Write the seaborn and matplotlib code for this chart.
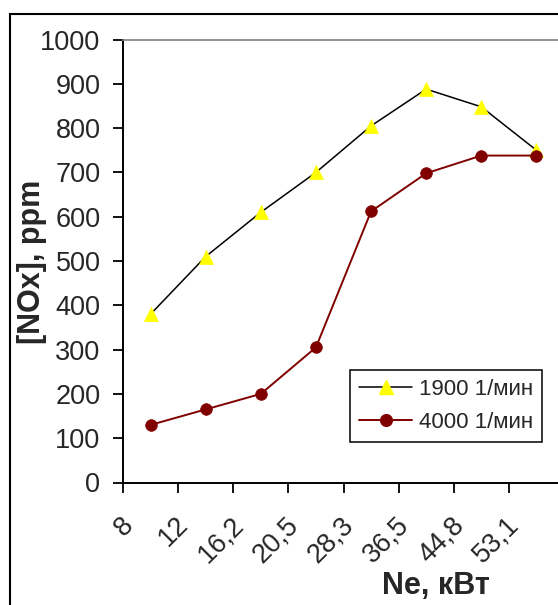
import matplotlib
matplotlib.use('Agg')
import matplotlib.pyplot as plt
import matplotlib.patches as mpatches
from matplotlib.lines import Line2D
from matplotlib.transforms import ScaledTranslation
import seaborn as sns
import pandas as pd

categories = ['8', '12', '16,2', '20,5', '28,3', '36,5', '44,8', '53,1']
nox_1900 = [380, 510, 610, 700, 805, 888, 848, 750]
nox_4000 = [130, 165, 200, 305, 612, 698, 738, 738]
series_labels = ['1900 1/мин', '4000 1/мин']
y_ticks = list(range(0, 1001, 100))
x_title = 'Ne, кВт'
y_title = '[NOx], ppm'

sns.set_style('white')
plt.rcParams['font.family'] = ['Liberation Sans', 'DejaVu Sans']

W, H = 558, 605
fig = plt.figure(figsize=(W / 100, H / 100), dpi=100)
ax = fig.add_axes([123 / W, 1 - 482.5 / H, 441 / W, 443 / H])

df1 = pd.DataFrame({'Ne': categories, 'NOx': nox_1900})
df2 = pd.DataFrame({'Ne': categories, 'NOx': nox_4000})

sns.lineplot(data=df1, x='Ne', y='NOx', ax=ax, sort=False, color='black',
             linewidth=1.1, marker='^', markersize=10,
             markerfacecolor='#FFFF00', markeredgecolor='#FFFF00',
             markeredgewidth=0.5, clip_on=False)
sns.lineplot(data=df2, x='Ne', y='NOx', ax=ax, sort=False, color='#800000',
             linewidth=1.4, marker='o', markersize=8.4,
             markerfacecolor='#800000', markeredgecolor='#800000',
             markeredgewidth=0.5, clip_on=False)

ax.set_xlim(-0.5, 7.5)
ax.set_ylim(0, 1000)
ax.set_yticks(y_ticks)
ax.set_xticks(range(len(categories)))
ax.set_xticklabels(categories)
ax.set_xticks([i - 0.5 for i in range(len(categories) + 1)], minor=True)
ax.set_xlabel('')
ax.set_ylabel('')

ax.tick_params(axis='y', which='major', left=True, length=7.2, width=1.3,
               direction='out', pad=9, labelsize=19.5, color='black')
ax.tick_params(axis='x', which='major', bottom=True, length=0, pad=27.7,
               labelsize=19.5, labelrotation=45)
ax.tick_params(axis='x', which='minor', bottom=True, length=7, width=1.3,
               direction='out', color='black')
offset = ScaledTranslation(-21 / 100, 0, fig.dpi_scale_trans)
for lab in ax.get_xticklabels():
    lab.set_ha('right')
    lab.set_va('center')
    lab.set_rotation_mode('anchor')
    lab.set_transform(lab.get_transform() + offset)

for s in ['left', 'bottom']:
    ax.spines[s].set_color('black')
    ax.spines[s].set_linewidth(1.4)
ax.spines['top'].set_color('#808080')
ax.spines['top'].set_linewidth(1.2)
ax.spines['right'].set_visible(False)
ax.grid(False)

handles = [
    Line2D([], [], color='black', lw=1.1, marker='^', ms=10,
           mfc='#FFFF00', mec='#FFFF00'),
    Line2D([], [], color='#800000', lw=1.4, marker='o', ms=8.4,
           mfc='#800000', mec='#800000'),
]
leg = ax.legend(handles, series_labels, loc='upper left',
                bbox_to_anchor=(350 / W, 1 - 370 / H),
                bbox_transform=fig.transFigure, borderaxespad=0,
                fontsize=16, handlelength=2.4, handletextpad=0.3,
                borderpad=0.4, labelspacing=0.55, frameon=True,
                fancybox=False, edgecolor='black', framealpha=1)
leg.get_frame().set_linewidth(1.1)

fig.text(32 / W, 1 - 262 / H, y_title, rotation=90, ha='center', va='center',
         fontsize=22, fontweight='bold')
fig.text(436 / W, 1 - 594 / H, x_title, ha='center', va='baseline',
         fontsize=22, fontweight='bold')

frame = mpatches.Rectangle((10 / W, -0.1), 2, 1.1 - 14 / H, fill=False,
                           ec='black', lw=1.5, transform=fig.transFigure,
                           clip_on=False)
fig.add_artist(frame)

fig.savefig('out.png', dpi=100)
